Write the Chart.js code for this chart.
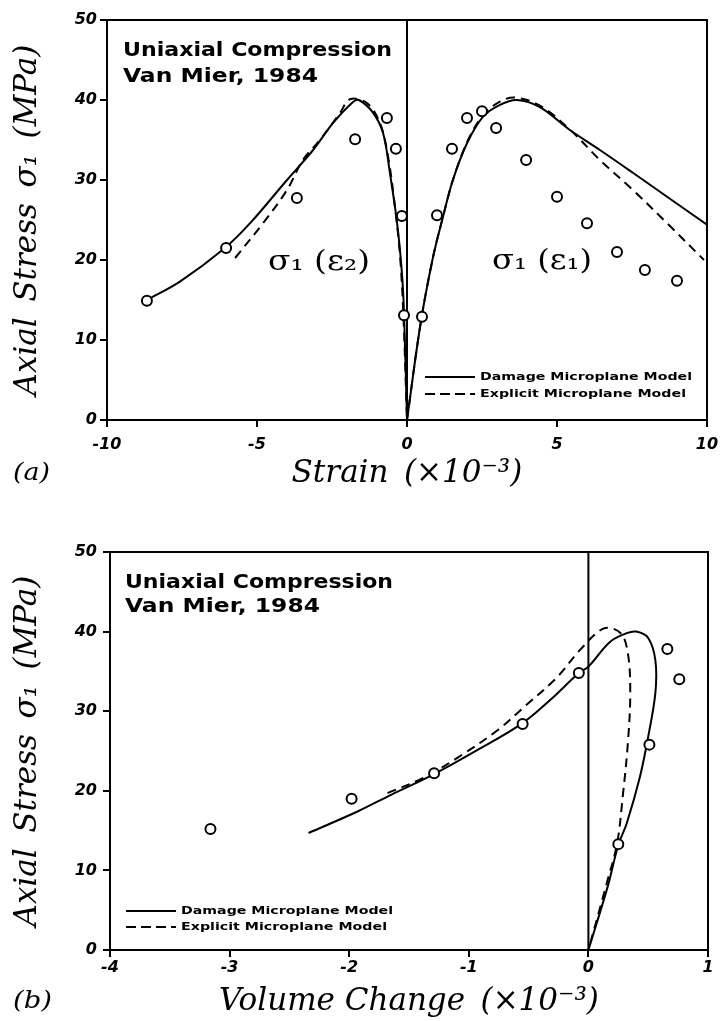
<!DOCTYPE html>
<html lang="en">
<head>
<meta charset="UTF-8">
<title>Uniaxial Compression - Van Mier, 1984</title>
<script src="https://cdn.jsdelivr.net/npm/chart.js"></script>
<style>
  body { margin: 0; background: #fff; }
  #wrap { width: 721px; height: 1021px; }
  canvas { display: block; }
</style>
</head>
<body>
<div id="wrap">
  <canvas id="chartA" width="721" height="510"></canvas>
  <canvas id="chartB" width="721" height="511"></canvas>
</div>

<script>
// ---- tick values ----
const stressTicks = [0, 10, 20, 30, 40, 50];
const strainTicks = [-10, -5, 0, 5, 10];
const volTicks = [-4, -3, -2, -1, 0, 1];

// ---- (a) stress vs strain ----
// test points, lateral strain branch (eps2)
const aTestLatX = [-8.67, -6.03, -3.67, -1.73, -0.67, -0.37, -0.17, -0.1];
const aTestLatY = [14.9, 21.5, 27.75, 35.1, 37.75, 33.9, 25.5, 13.1];
// test points, axial strain branch (eps1)
const aTestAxX = [0.5, 1.0, 1.5, 2.0, 2.5, 2.97, 3.97, 5.0, 6.0, 7.0, 7.93, 9.0];
const aTestAxY = [12.9, 25.6, 33.9, 37.75, 38.6, 36.5, 32.5, 27.9, 24.6, 21.0, 18.75, 17.4];
// damage microplane model
const aDmgLatX = [-8.67, -7.57, -6.07, -5.23, -4.0, -3.13, -2.47, -1.8, -1.6, -1.13, -0.8, -0.57, -0.33, -0.17, -0.1, 0];
const aDmgLatY = [15, 17.3, 21.5, 24.6, 30, 33.75, 37.1, 39.75, 40, 38.4, 35.9, 30.9, 24.6, 18.4, 13.4, 0];
const aDmgAxX = [0, 0.45, 0.87, 1.2, 1.53, 2.0, 2.53, 3.1, 3.67, 4.43, 5.43, 6.43, 7.53, 8.67, 10];
const aDmgAxY = [0, 12, 20.4, 25.4, 30, 34.6, 37.9, 39.4, 40, 39.1, 36.25, 33.75, 30.9, 27.9, 24.4];
// explicit microplane model
const aExpLatX = [-5.73, -4.8, -4.0, -3.47, -2.9, -2.23, -1.9, -1.33, -0.9, -0.63, -0.4, -0.23, -0.12, 0];
const aExpLatY = [20.25, 24.6, 28.75, 32.5, 35, 38.4, 40.1, 39.6, 37.1, 32.9, 26.6, 20.4, 13, 0];
const aExpAxX = [0, 0.45, 0.87, 1.2, 1.53, 2.0, 2.53, 3.1, 3.6, 4.43, 5.43, 6.43, 7.53, 8.67, 9.9];
const aExpAxY = [0, 12, 20.4, 25.4, 30, 34.7, 38.1, 39.8, 40.3, 39.3, 36.3, 32.5, 28.75, 24.6, 20.0];

// ---- (b) stress vs volume change ----
const bTestX = [-3.16, -1.98, -1.29, -0.55, -0.08, 0.66, 0.76, 0.51, 0.25];
const bTestY = [15.2, 19.0, 22.2, 28.4, 34.8, 37.8, 34.0, 25.8, 13.3];
const bDmgX = [-2.34, -1.93, -1.65, -1.29, -0.93, -0.55, -0.32, -0.08, 0, 0.18, 0.32, 0.4, 0.5, 0.56, 0.56, 0.5, 0.43, 0.32, 0.25, 0.16, 0];
const bDmgY = [14.7, 17.4, 19.5, 22.1, 25.1, 28.5, 31.4, 34.8, 35.6, 38.7, 39.8, 40, 39.2, 36.4, 32.3, 26.8, 21.7, 15.9, 13.2, 7.9, 0];
const bExpX = [-1.68, -1.37, -1.09, -0.76, -0.54, -0.26, -0.07, 0.13, 0.27, 0.33, 0.35, 0.33, 0.29, 0.24, 0.15, 0];
const bExpY = [19.7, 21.7, 24.2, 27.6, 30.5, 34.3, 37.7, 40.4, 39.8, 37.3, 32.3, 26, 19.7, 13.4, 8.2, 0];

function pts(xs, ys) {
  return xs.map((x, i) => ({ x: x, y: ys[i] }));
}

function lineDs(label, xs, ys, dashed) {
  return {
    label: label,
    data: pts(xs, ys),
    showLine: true,
    borderColor: '#000',
    borderWidth: 2,
    borderDash: dashed ? [9, 6] : [],
    pointRadius: 0,
    tension: 0.35,
    fill: false,
    order: 2
  };
}

function testDs(xs, ys) {
  return {
    label: 'Test',
    data: pts(xs, ys),
    showLine: false,
    pointRadius: 5,
    pointBorderWidth: 2,
    pointBorderColor: '#000',
    pointBackgroundColor: '#fff',
    order: 1
  };
}

// draw text squeezed/stretched to a given width
function fitText(ctx, txt, x, y, w, font) {
  ctx.save();
  ctx.font = font;
  ctx.fillStyle = '#000';
  ctx.textBaseline = 'middle';
  const m = ctx.measureText(txt).width;
  ctx.translate(x, y);
  ctx.scale(w / m, 1);
  ctx.fillText(txt, 0, 0);
  ctx.restore();
}

// box, zero line, labels and legend
const decor = {
  id: 'decor',
  beforeDatasetsDraw(chart) {
    const ctx = chart.ctx, a = chart.chartArea;
    const x0 = chart.scales.x.getPixelForValue(0);
    ctx.save();
    ctx.strokeStyle = '#000';
    ctx.lineWidth = 2;
    ctx.beginPath();
    ctx.moveTo(x0, a.top);
    ctx.lineTo(x0, a.bottom);
    ctx.stroke();
    ctx.restore();
  },
  afterDraw(chart, args, o) {
    const ctx = chart.ctx, a = chart.chartArea;
    ctx.save();
    ctx.strokeStyle = '#000';
    ctx.lineWidth = 2;
    ctx.strokeRect(a.left, a.top, a.right - a.left, a.bottom - a.top);
    ctx.restore();

    (o.texts || []).forEach(t => fitText(ctx, t.s, t.x, t.y, t.w, t.font));

    const lg = o.legend;
    ctx.save();
    ctx.strokeStyle = '#000';
    ctx.lineWidth = 2;
    [[lg.y1, []], [lg.y2, [10, 5]]].forEach(([y, d]) => {
      ctx.setLineDash(d);
      ctx.beginPath();
      ctx.moveTo(lg.x, y);
      ctx.lineTo(lg.x + 50, y);
      ctx.stroke();
    });
    ctx.restore();
    const lf = 'bold 11px "DejaVu Sans"';
    fitText(ctx, 'Damage Microplane Model', lg.x + 55, lg.y1, 212, lf);
    fitText(ctx, 'Explicit Microplane Model', lg.x + 55, lg.y2, 206, lf);
  }
};

const tickFont = { family: 'DejaVu Sans', weight: 'bold', style: 'italic', size: 16 };
const titleFont = { family: 'DejaVu Serif', style: 'italic', size: 31 };

function makeChart(id, c) {
  return new Chart(document.getElementById(id), {
    type: 'scatter',
    data: { datasets: c.datasets },
    plugins: [decor],
    options: {
      responsive: false,
      animation: false,
      layout: { padding: c.padding },
      plugins: {
        legend: { display: false },
        tooltip: { enabled: false },
        decor: c.decor
      },
      scales: {
        x: {
          type: 'linear',
          min: c.xTicks[0],
          max: c.xTicks[c.xTicks.length - 1],
          afterBuildTicks: s => { s.ticks = c.xTicks.map(v => ({ value: v })); },
          afterFit: s => { s.height = c.xHeight; s.paddingLeft = 0; s.paddingRight = 0; },
          ticks: { color: '#000', font: tickFont, padding: c.xTickPad },
          grid: { drawOnChartArea: false, drawTicks: true, tickLength: 7, color: '#000', lineWidth: 2 },
          border: { display: false },
          title: { display: true, text: c.xTitle, color: '#000', font: titleFont, padding: { top: 0, bottom: c.xTitlePad } }
        },
        y: {
          type: 'linear',
          min: 0,
          max: 50,
          afterBuildTicks: s => { s.ticks = stressTicks.map(v => ({ value: v })); },
          afterFit: s => { s.width = c.yWidth; s.paddingTop = 0; s.paddingBottom = 0; },
          ticks: { color: '#000', font: tickFont, padding: c.yTickPad },
          grid: { drawOnChartArea: false, drawTicks: true, tickLength: 7, color: '#000', lineWidth: 2 },
          border: { display: false },
          title: { display: true, text: 'Axial\u2002Stress\u2002σ₁\u2002(MPa)', color: '#000', font: titleFont, padding: { top: 9, bottom: 0 } }
        }
      }
    }
  });
}

const hdrFont = 'bold 19px "DejaVu Sans"';
const sigFont = '28px "DejaVu Serif"';
const capFont = 'italic 25px "DejaVu Serif"';

makeChart('chartA', {
  datasets: [
    testDs(aTestLatX, aTestLatY),
    testDs(aTestAxX, aTestAxY),
    lineDs('Damage Microplane Model', aDmgLatX, aDmgLatY, false),
    lineDs('Damage Microplane Model', aDmgAxX, aDmgAxY, false),
    lineDs('Explicit Microplane Model', aExpLatX, aExpLatY, true),
    lineDs('Explicit Microplane Model', aExpAxX, aExpAxY, true)
  ],
  xTicks: strainTicks,
  xTitle: 'Strain\u2002(×10⁻³)',
  padding: { top: 20, right: 14, left: 0, bottom: 0 },
  xHeight: 90, xTickPad: 8, xTitlePad: 17,
  yWidth: 107, yTickPad: 3,
  decor: {
    texts: [
      { s: 'Uniaxial Compression', x: 123, y: 51, w: 269, font: hdrFont },
      { s: 'Van Mier, 1984', x: 123, y: 77, w: 195, font: hdrFont },
      { s: 'σ₁ (ε₂)', x: 268, y: 263, w: 102, font: sigFont },
      { s: 'σ₁ (ε₁)', x: 492, y: 262, w: 100, font: sigFont },
      { s: '(a)', x: 13, y: 473, w: 37, font: capFont }
    ],
    legend: { x: 425, y1: 377, y2: 394 }
  }
});

makeChart('chartB', {
  datasets: [
    testDs(bTestX, bTestY),
    lineDs('Damage Microplane Model', bDmgX, bDmgY, false),
    lineDs('Explicit Microplane Model', bExpX, bExpY, true)
  ],
  xTicks: volTicks,
  xTitle: 'Volume Change\u2002(×10⁻³)',
  padding: { top: 42, right: 13, left: 0, bottom: 0 },
  xHeight: 71, xTickPad: 1, xTitlePad: 0,
  yWidth: 110, yTickPad: 6,
  decor: {
    texts: [
      { s: 'Uniaxial Compression', x: 125, y: 73, w: 268, font: hdrFont },
      { s: 'Van Mier, 1984', x: 125, y: 97, w: 195, font: hdrFont },
      { s: '(b)', x: 13, y: 491, w: 39, font: capFont }
    ],
    legend: { x: 126, y1: 401, y2: 417 }
  }
});
</script>
</body>
</html>
